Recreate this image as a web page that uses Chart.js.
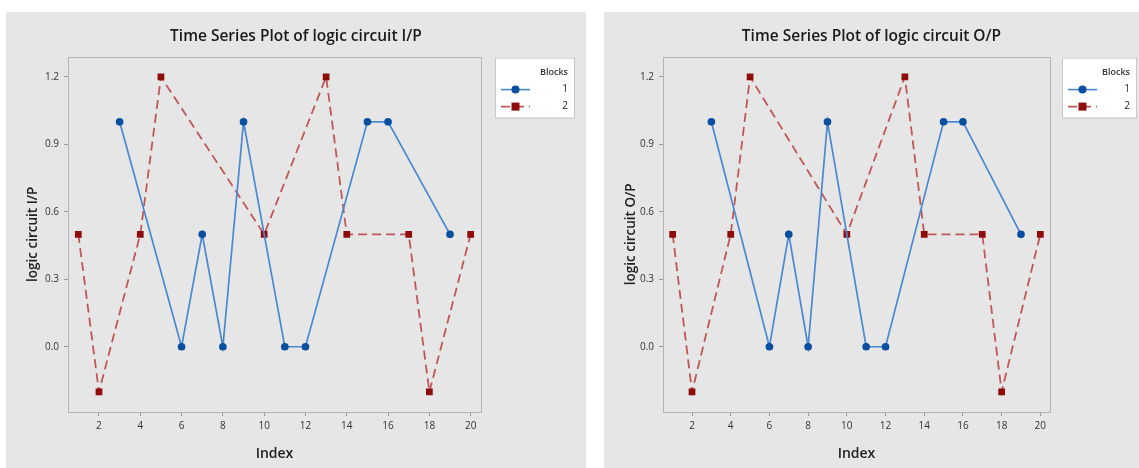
<!DOCTYPE html>
<html>
<head>
<meta charset="utf-8">
<script src="https://cdn.jsdelivr.net/npm/chart.js@4.4.1/dist/chart.umd.min.js"></script>
<style>
  body { margin: 0; background: #ffffff; width: 1139px; height: 468px; position: relative; overflow: hidden; }
  .painel { position: absolute; top: 12px; height: 456px; background: #e6e6e6; }
  #painelEsq { left: 6px; width: 580px; }
  #painelDir { left: 604px; width: 535px; }
  canvas { display: block; }
</style>
</head>
<body>
<div class="painel" id="painelEsq"><canvas id="graficoEntrada" width="580" height="456"></canvas></div>
<div class="painel" id="painelDir"><canvas id="graficoSaida" width="535" height="456"></canvas></div>
<script>
// Bloco 1 (azul) e bloco 2 (vermelho)
const indices1 = [3, 6, 7, 8, 9, 11, 12, 15, 16, 19];
const valores1 = [1, 0, 0.5, 0, 1, 0, 0, 1, 1, 0.5];
const indices2 = [1, 2, 4, 5, 10, 13, 14, 17, 18, 20];
const valores2 = [0.5, -0.2, 0.5, 1.2, 0.5, 1.2, 0.5, 0.5, -0.2, 0.5];
const rotulos = ["1", "2"];
const ticksX = [2, 4, 6, 8, 10, 12, 14, 16, 18, 20];
const ticksY = [0, 0.3, 0.6, 0.9, 1.2];

const fonte = "'Open Sans', 'Noto Sans', sans-serif";

function pontos(xs, ys) {
    return xs.map((x, i) => ({ x: x, y: ys[i] }));
}

// moldura da área do gráfico + legenda desenhada à mão
const molduraLegenda = {
    id: 'molduraLegenda',
    afterDraw(chart) {
        const ctx = chart.ctx;
        const a = chart.chartArea;
        ctx.save();
        ctx.strokeStyle = '#b4b4b4';
        ctx.lineWidth = 1;
        ctx.strokeRect(Math.round(a.left) + 0.5, Math.round(a.top) + 0.5, Math.round(a.right - a.left), Math.round(a.bottom - a.top));

        const leg = chart.options.plugins.molduraLegenda;
        const lx = a.right + leg.dx, ly = a.top + 1, lw = leg.largura, lh = 60;
        ctx.fillStyle = '#ffffff';
        ctx.fillRect(lx, ly, lw, lh);
        ctx.strokeStyle = '#c8c8c8';
        ctx.strokeRect(lx + 0.5, ly + 0.5, lw, lh);

        ctx.fillStyle = '#333333';
        ctx.font = "600 9px " + fonte;
        ctx.textAlign = 'right';
        ctx.textBaseline = 'middle';
        ctx.fillText('Blocks', lx + lw - 6, ly + 15);

        chart.data.datasets.forEach((ds, i) => {
            const y = ly + 32 + i * 17;
            const x0 = lx + 6, x1 = lx + 35;
            ctx.strokeStyle = ds.borderColor;
            ctx.lineWidth = 1.6;
            ctx.setLineDash(ds.borderDash || []);
            ctx.beginPath();
            ctx.moveTo(x0, y);
            ctx.lineTo(x1, y);
            ctx.stroke();
            ctx.setLineDash([]);
            ctx.fillStyle = ds.pointBackgroundColor;
            const cx = (x0 + x1) / 2;
            if (ds.pointStyle === 'rect') {
                ctx.fillRect(cx - 4, y - 4, 8, 8);
            } else {
                ctx.beginPath();
                ctx.arc(cx, y, 4, 0, Math.PI * 2);
                ctx.fill();
            }
            ctx.fillStyle = '#222222';
            ctx.font = "10px " + fonte;
            ctx.fillText(ds.label, lx + lw - 6, y);
        });
        ctx.restore();
    }
};

function criarGrafico(id, titulo, eixoY, larguraEixoY, dx, larguraLegenda, direita) {
    new Chart(document.getElementById(id), {
        type: 'line',
        data: {
            datasets: [{
                label: rotulos[0],
                data: pontos(indices1, valores1),
                borderColor: '#4a88d0',
                borderWidth: 1.7,
                pointStyle: 'circle',
                pointRadius: 3,
                pointBackgroundColor: '#0b4f9f',
                pointBorderColor: '#0b4f9f',
                tension: 0
            }, {
                label: rotulos[1],
                data: pontos(indices2, valores2),
                borderColor: '#c05757',
                borderWidth: 1.8,
                borderDash: [9, 5],
                pointStyle: 'rect',
                pointRadius: 3.5,
                pointBackgroundColor: '#8e0c0c',
                pointBorderColor: '#8e0c0c',
                tension: 0
            }]
        },
        options: {
            responsive: false,
            animation: false,
            layout: { padding: 0 },
            plugins: {
                legend: { display: false },
                tooltip: { enabled: false },
                title: {
                    display: true,
                    text: titulo,
                    color: '#1a1a1a',
                    font: { family: fonte, size: 15.5, weight: '600' },
                    padding: { top: 15, bottom: 11 }
                },
                molduraLegenda: { dx: dx, largura: larguraLegenda }
            },
            scales: {
                x: {
                    type: 'linear',
                    min: 0.5,
                    max: 20.5,
                    afterBuildTicks: s => { s.ticks = ticksX.map(v => ({ value: v })); },
                    afterFit: s => { s.height = 56; },
                    ticks: { color: '#333333', font: { family: fonte, size: 10 }, padding: 4, maxRotation: 0 },
                    grid: { display: true, drawOnChartArea: false, drawTicks: true, tickLength: 4, color: '#999999' },
                    border: { display: false },
                    title: {
                        display: true,
                        text: 'Index',
                        color: '#222222',
                        font: { family: fonte, size: 14, weight: '600' },
                        padding: { top: 0, bottom: 6 }
                    }
                },
                y: {
                    min: -0.29,
                    max: 1.29,
                    afterBuildTicks: s => { s.ticks = ticksY.map(v => ({ value: v })); },
                    afterFit: s => { s.width = larguraEixoY; },
                    ticks: { color: '#333333', font: { family: fonte, size: 10 }, padding: 5, callback: v => v.toFixed(1) },
                    grid: { display: true, drawOnChartArea: false, drawTicks: true, tickLength: 4, color: '#999999' },
                    border: { display: false },
                    title: {
                        display: true,
                        text: eixoY,
                        color: '#222222',
                        font: { family: fonte, size: 13.5, weight: '600' },
                        padding: { top: 19, bottom: 0 }
                    }
                },
                // eixo vazio à direita só para reservar espaço da legenda
                margem: {
                    position: 'right',
                    display: true,
                    ticks: { display: false },
                    grid: { display: false },
                    border: { display: false },
                    afterFit: s => { s.width = direita; }
                }
            }
        },
        plugins: [molduraLegenda]
    });
}

criarGrafico('graficoEntrada', 'Time Series Plot of logic circuit I/P', 'logic circuit I/P', 62, 14, 79, 105);
criarGrafico('graficoSaida', 'Time Series Plot of logic circuit O/P', 'logic circuit O/P', 59, 12, 74, 89);
</script>
</body>
</html>
